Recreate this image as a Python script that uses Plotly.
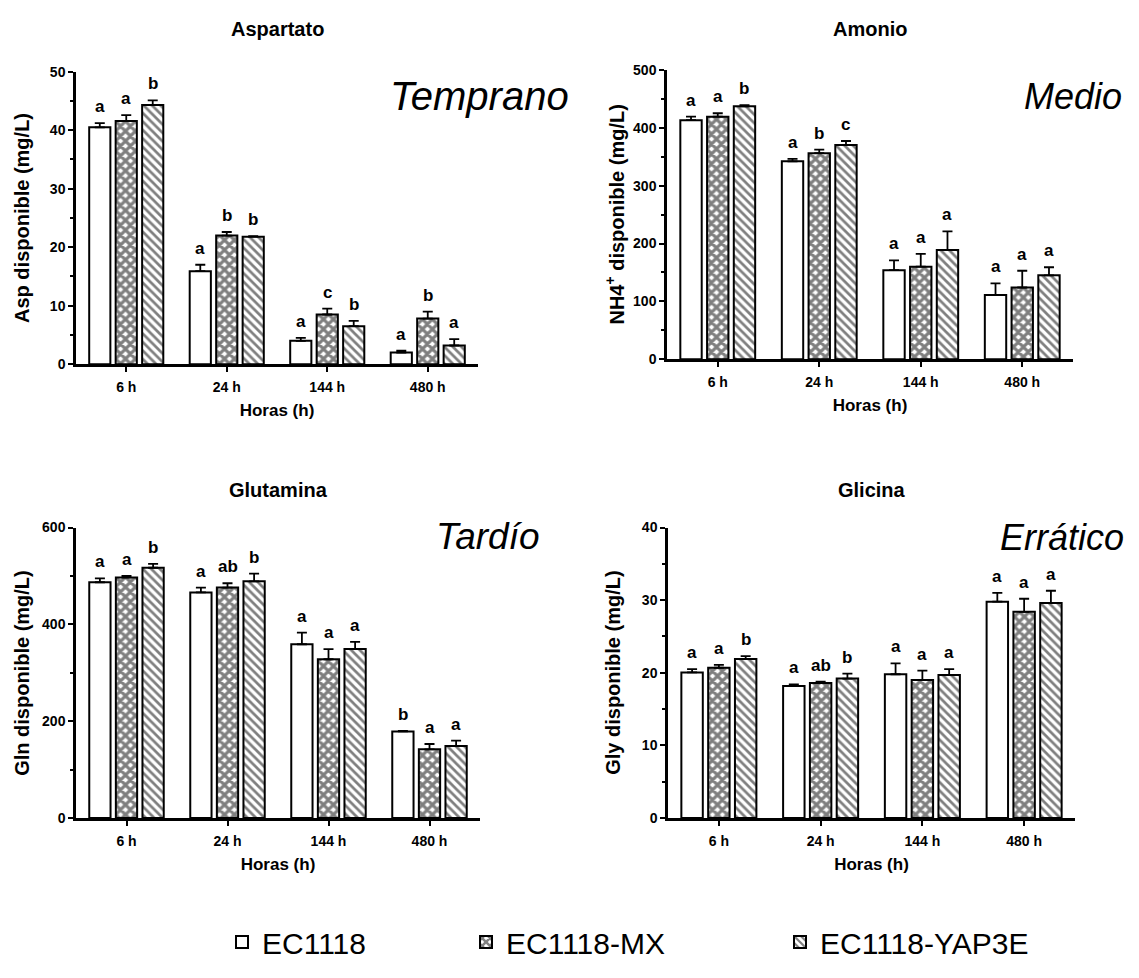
import plotly.graph_objects as go

# ---------------- data ----------------
categories = ["6 h", "24 h", "144 h", "480 h"]
strains = ["EC1118", "EC1118-MX", "EC1118-YAP3E"]

# Aspartato (mg/L)
asp_ec1118 = [40.5, 15.9, 4.0, 2.0]
asp_mx = [41.6, 22.0, 8.5, 7.8]
asp_yap = [44.3, 21.8, 6.5, 3.2]
asp_ec1118_err = [0.7, 1.1, 0.5, 0.3]
asp_mx_err = [1.0, 0.6, 1.0, 1.2]
asp_yap_err = [0.8, 0.1, 0.9, 1.1]
asp_ec1118_let = ["a", "a", "a", "a"]
asp_mx_let = ["a", "b", "c", "b"]
asp_yap_let = ["b", "b", "b", "a"]

# Amonio (mg/L)
nh4_ec1118 = [413, 342, 154, 111]
nh4_mx = [419, 356, 160, 124]
nh4_yap = [437, 370, 189, 145]
nh4_ec1118_err = [6, 4, 17, 20]
nh4_mx_err = [6, 6, 22, 29]
nh4_yap_err = [2, 7, 32, 14]
nh4_ec1118_let = ["a", "a", "a", "a"]
nh4_mx_let = ["a", "b", "a", "a"]
nh4_yap_let = ["b", "c", "a", "a"]

# Glutamina (mg/L)
gln_ec1118 = [487, 466, 359, 179]
gln_mx = [497, 476, 328, 142]
gln_yap = [517, 489, 349, 149]
gln_ec1118_err = [8, 10, 24, 1]
gln_mx_err = [3, 9, 21, 11]
gln_yap_err = [8, 16, 15, 11]
gln_ec1118_let = ["a", "a", "a", "b"]
gln_mx_let = ["a", "ab", "a", "a"]
gln_yap_let = ["b", "b", "a", "a"]

# Glicina (mg/L)
gly_ec1118 = [20.05, 18.2, 19.8, 29.8]
gly_mx = [20.7, 18.6, 19.0, 28.4]
gly_yap = [21.9, 19.2, 19.7, 29.6]
gly_ec1118_err = [0.45, 0.2, 1.5, 1.2]
gly_mx_err = [0.4, 0.2, 1.3, 1.8]
gly_yap_err = [0.4, 0.7, 0.8, 1.7]
gly_ec1118_let = ["a", "a", "a", "a"]
gly_mx_let = ["a", "ab", "a", "a"]
gly_yap_let = ["b", "b", "a", "a"]

titles = ["Aspartato", "Amonio", "Glutamina", "Glicina"]
phases = ["Temprano", "Medio", "Tardío", "Errático"]
ytitles = ["Asp disponible (mg/L)", "NH4<sup>+</sup> disponible (mg/L)",
           "Gln disponible (mg/L)", "Gly disponible (mg/L)"]
yranges = [[0, 50], [0, 500], [0, 600], [0, 40]]
ydticks = [10, 100, 200, 10]

panels = [
    ([asp_ec1118, asp_mx, asp_yap], [asp_ec1118_err, asp_mx_err, asp_yap_err],
     [asp_ec1118_let, asp_mx_let, asp_yap_let]),
    ([nh4_ec1118, nh4_mx, nh4_yap], [nh4_ec1118_err, nh4_mx_err, nh4_yap_err],
     [nh4_ec1118_let, nh4_mx_let, nh4_yap_let]),
    ([gln_ec1118, gln_mx, gln_yap], [gln_ec1118_err, gln_mx_err, gln_yap_err],
     [gln_ec1118_let, gln_mx_let, gln_yap_let]),
    ([gly_ec1118, gly_mx, gly_yap], [gly_ec1118_err, gly_mx_err, gly_yap_err],
     [gly_ec1118_let, gly_mx_let, gly_yap_let]),
]

# ---------------- layout geometry ----------------
# The page body has an 8px default margin: figure is sized to fit the 1139x978 window,
# and reference page pixel positions are converted to figure paper coordinates.
PAGE_MARGIN = 8
W, H = 1121, 960
FONT = "Liberation Sans, Arial, sans-serif"
BARGAP = 0.21
BARGROUPGAP = 0.2


def fx(px):
    return (px - PAGE_MARGIN) / W


def fy(py):
    return 1 - (py - PAGE_MARGIN) / H


xdomains = [[fx(76), fx(478)], [fx(667), fx(1073)], [fx(76), fx(480)], [fx(668), fx(1075)]]
ydomains = [[fy(364), fy(65)], [fy(359), fy(63)], [fy(828), fy(531)], [fy(828), fy(531)]]
phase_pos = [(fx(571), fy(90)), (fx(1124), fy(90)), (fx(542), fy(540)), (fx(1126), fy(541))]
phase_size = [40, 36, 37, 36]
title_y = [fy(21), fy(21), fy(493), fy(493)]
ytitle_x = [fx(22), fx(615), fx(22), fx(613)]
legend_x = [fx(222), fx(466), fx(780)]
legend_y = fy(955)

patterns = [
    dict(shape=""),
    dict(shape="x", size=7, solidity=0.7, fgcolor="black", bgcolor="white", fillmode="overlay"),
    dict(shape="\\", size=6, solidity=0.45, fgcolor="black", bgcolor="white", fillmode="overlay"),
]
legend_names = ["legend", "legend2", "legend3"]

fig = go.Figure()
annotations = []
layout_axes = {}

for p, (means, errs, lets) in enumerate(panels):
    sfx = "" if p == 0 else str(p + 1)
    xa, ya = "x" + sfx, "y" + sfx
    for s in range(3):
        fig.add_trace(go.Bar(
            x=categories, y=means[s], name=strains[s],
            xaxis=xa, yaxis=ya, offsetgroup=str(s), legendgroup=strains[s],
            legend=legend_names[s], showlegend=(p == 0),
            marker=dict(color="white", line=dict(color="black", width=2), pattern=patterns[s]),
            error_y=dict(type="data", symmetric=False, array=errs[s], arrayminus=[0] * 4,
                         color="black", thickness=1.8, width=5),
        ))
        # letters above the error bars
        px_w = (xdomains[p][1] - xdomains[p][0]) * W
        slot = px_w / len(categories) * (1 - BARGAP) / 3
        for i, c in enumerate(categories):
            annotations.append(dict(
                x=c, y=means[s][i] + errs[s][i], xref=xa, yref=ya,
                text=lets[s][i], showarrow=False, yanchor="bottom",
                xshift=(s - 1) * slot, yshift=5,
                font=dict(family=FONT, size=17, color="black", weight="bold")))
    axis_font = dict(family=FONT, size=14, color="black", weight="bold")
    layout_axes["xaxis" + sfx] = dict(
        domain=xdomains[p], anchor=ya, type="category",
        showline=True, linecolor="black", linewidth=2.5,
        ticks="outside", ticklen=5, tickwidth=2, tickcolor="black",
        ticklabelstandoff=3,
        tickfont=axis_font, showgrid=False, zeroline=False,
        title=dict(text="Horas (h)", standoff=11,
                   font=dict(family=FONT, size=17, color="black", weight="bold")),
    )
    layout_axes["yaxis" + sfx] = dict(
        domain=ydomains[p], anchor=xa, range=yranges[p], dtick=ydticks[p],
        showline=True, linecolor="black", linewidth=2.5,
        ticks="outside", ticklen=5, tickwidth=2, tickcolor="black",
        minor=dict(ticks="outside", ticklen=3, tickwidth=1.5, tickcolor="black",
                   dtick=ydticks[p] / 2, showgrid=False),
        tickfont=axis_font, showgrid=False, zeroline=False,
    )
    # y-axis title (rotated)
    annotations.append(dict(
        x=ytitle_x[p], y=(ydomains[p][0] + ydomains[p][1]) / 2, xref="paper", yref="paper",
        text=ytitles[p], showarrow=False, textangle=-90, xanchor="center", yanchor="middle",
        font=dict(family=FONT, size=20, color="black", weight="bold")))
    annotations.append(dict(
        x=(xdomains[p][0] + xdomains[p][1]) / 2, y=title_y[p], xref="paper", yref="paper",
        text=titles[p], showarrow=False, xanchor="center", yanchor="middle",
        font=dict(family=FONT, size=20, color="black", weight="bold")))
    annotations.append(dict(
        x=phase_pos[p][0], y=phase_pos[p][1], xref="paper", yref="paper",
        text=phases[p], showarrow=False, xanchor="right", yanchor="middle",
        font=dict(family=FONT, size=phase_size[p], color="black", style="italic")))

legend_layout = {}
for s in range(3):
    legend_layout[legend_names[s]] = dict(
        orientation="h", x=legend_x[s], y=legend_y, xanchor="left", yanchor="middle",
        font=dict(family=FONT, size=30, color="black"), itemwidth=30,
        bgcolor="rgba(0,0,0,0)")

fig.update_layout(
    width=W, height=H,
    margin=dict(l=0, r=0, t=0, b=0),
    paper_bgcolor="white", plot_bgcolor="white",
    barmode="group", bargap=BARGAP, bargroupgap=BARGROUPGAP,
    annotations=annotations,
    **legend_layout,
    **layout_axes,
)

fig.write_html("out.html")
